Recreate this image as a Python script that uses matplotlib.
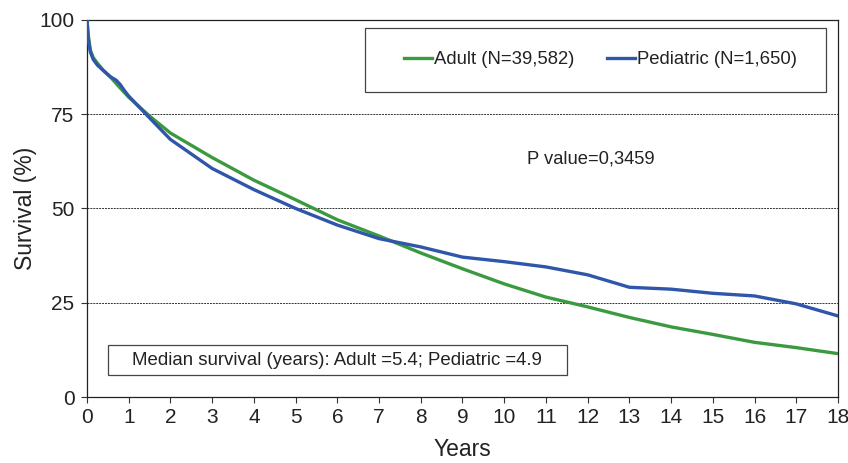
import matplotlib.pyplot as plt
from matplotlib.patches import Rectangle

plt.rcParams["font.family"] = ["Liberation Sans", "DejaVu Sans"]

# survival curves (years, %)
adult_years = [0, 0.03, 0.08, 0.15, 0.25, 0.4, 0.55, 0.75, 1, 1.5, 2, 3, 4, 5, 6, 7, 8, 9,
               10, 11, 12, 13, 14, 15, 16, 17, 18]
adult_surv = [100, 96, 92, 90, 88.5, 86.5, 85, 82.5, 79.5, 74.5, 70, 63.5, 57.5, 52.3, 47, 42.7,
              38.2, 34, 30, 26.5, 23.9, 21.1, 18.6, 16.6, 14.5, 13.1, 11.5]

ped_years = [0, 0.03, 0.08, 0.15, 0.25, 0.4, 0.55, 0.7, 0.8, 0.9, 1, 1.5, 2, 3, 4, 5, 6, 7, 8,
             9, 10, 11, 12, 13, 14, 15, 16, 17, 18]
ped_surv = [100, 95, 91.5, 89.5, 88, 86.5, 85, 84, 82.8, 81.2, 79.8, 74, 68.3, 60.6, 55, 50, 45.6,
            42, 39.8, 37.1, 35.9, 34.5, 32.4, 29.1, 28.6, 27.5, 26.8, 24.7, 21.5]

x_ticks = list(range(0, 19))
y_ticks = [0, 25, 50, 75, 100]

green = "#3b9a3f"
blue = "#2f56aa"

fig = plt.figure(figsize=(8.48, 4.63), dpi=100)
ax = fig.add_axes([0.1026, 0.1425, 0.8856, 0.8145])

for y in y_ticks[1:4]:
    ax.axhline(y, color="#333333", lw=0.7, ls=(0, (2, 1)), zorder=1)

ax.plot(adult_years, adult_surv, color=green, lw=2.4, label="Adult (N=39,582)", zorder=3,
        solid_joinstyle="round")
ax.plot(ped_years, ped_surv, color=blue, lw=2.4, label="Pediatric (N=1,650)", zorder=4,
        solid_joinstyle="round")

ax.set_xlim(0, 18)
ax.set_ylim(0, 100)
ax.set_xticks(x_ticks)
ax.set_yticks(y_ticks)
ax.tick_params(axis="both", labelsize=15, length=4, width=0.8, color="#333333",
               labelcolor="#222222")
ax.tick_params(axis="x", pad=4)
ax.tick_params(axis="y", pad=5)
for side in ax.spines.values():
    side.set_color("#222222")
    side.set_linewidth(0.9)

ax.set_xlabel("Years", fontsize=16.5, labelpad=8, color="#222222")
ax.set_ylabel("Survival (%)", fontsize=16.5, labelpad=2, color="#222222")

# legend box
ax.add_patch(Rectangle((0.37, 0.809), 0.614, 0.17, transform=ax.transAxes,
                       fill=False, edgecolor="#444444", lw=0.9, zorder=5))
ax.legend(loc="center", bbox_to_anchor=(0.684, 0.894), ncol=2, frameon=False,
          fontsize=13.3, handlelength=1.5, handletextpad=0.1, columnspacing=1.8,
          labelcolor="#222222")

ax.text(12.07, 63.1, "P value=0,3459", fontsize=13.2, ha="center", va="center",
        color="#222222")

# median survival box
ax.add_patch(Rectangle((0.5, 5.84), 11.0, 7.96, fill=False, edgecolor="#444444",
                       lw=0.9, zorder=5))
ax.text(6.0, 9.6, "Median survival (years): Adult =5.4; Pediatric =4.9", fontsize=13.4,
        ha="center", va="center", color="#222222", zorder=6)

fig.savefig("out.png", dpi=100)
